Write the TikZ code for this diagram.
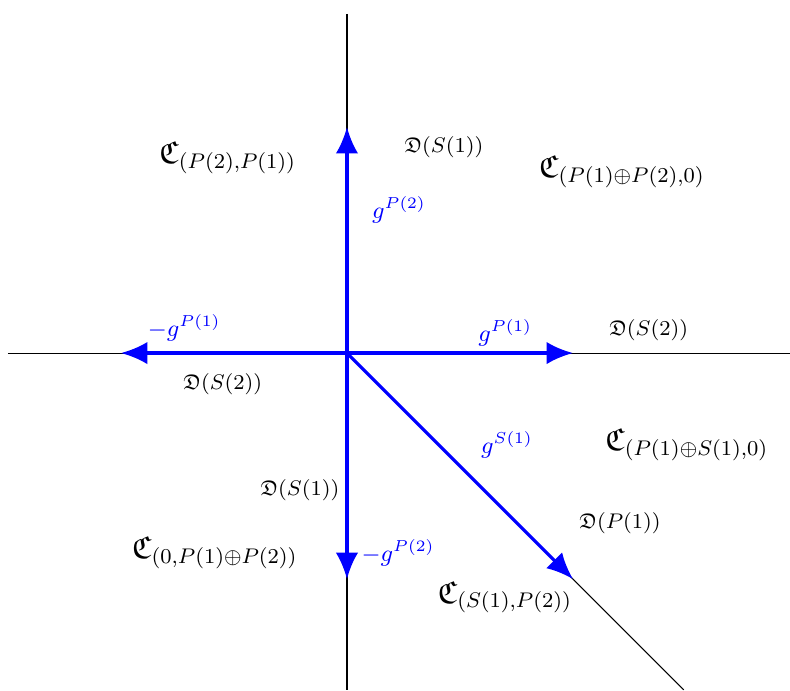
\documentclass[tikz,border=0pt]{standalone}
\usepackage{amssymb}
\usetikzlibrary{arrows.meta}
\tikzset{
  achse/.style  = {draw=black, line width=0.4pt},
  vektor/.style = {-{Latex[length=10pt, width=8.5pt]}, draw=blue, line width=1.2pt},
  kammer/.style = {font=\large},
  wand/.style   = {font=\footnotesize},
  gtxt/.style   = {text=blue, font=\small},
}

\begin{document}
\begin{tikzpicture}[x=3cm, y=3cm]
  \useasboundingbox (-1.535,-1.491) rectangle (1.96,1.562);
  % --- achsen ---
  \coordinate (o) at (0,0);
  \coordinate (links) at (-1.5,0);
  \coordinate (rechts) at (1.96,0);
  \coordinate (oben) at (0,1.5);
  \coordinate (unten) at (0,-1.49);
  \coordinate (diag) at (1.49,-1.49);
  \draw[achse] (links) -- (rechts);
  \draw[achse] (oben) -- (unten);
  \draw[achse] (o) -- (diag);

  % --- vektoren ---
  \coordinate (gp2) at (0,1);
  \coordinate (gp1) at (1,0);
  \coordinate (mgp1) at (-1,0);
  \coordinate (mgp2) at (0,-1);
  \coordinate (gs1) at (1,-1);
  \draw[vektor] (o) -- (gp2);
  \draw[vektor] (o) -- (gp1);
  \draw[vektor] (o) -- (mgp1);
  \draw[vektor] (o) -- (mgp2);
  \draw[vektor] (o) -- (gs1);

  \node[gtxt] at (0.23, 0.633) (lgp2) {$g^{P(2)}$};
  \node[gtxt] at (-0.72, 0.111) (lmgp1) {$-g^{P(1)}$};
  \node[gtxt] at (0.70, 0.088) (lgp1) {$g^{P(1)}$};
  \node[gtxt] at (0.708, -0.407) (lgs1) {$g^{S(1)}$};
  \node[gtxt] at (0.226, -0.885) (lmgp2) {$-g^{P(2)}$};

  % --- waende ---
  \node[wand] at (0.429, 0.912) (ds1o) {$\mathfrak{D}(S(1))$};
  \node[wand] at (1.335, 0.102) (ds2r) {$\mathfrak{D}(S(2))$};
  \node[wand] at (-0.549, -0.137) (ds2l) {$\mathfrak{D}(S(2))$};
  \node[wand] at (-0.208, -0.606) (ds1u) {$\mathfrak{D}(S(1))$};
  \node[wand] at (1.208, -0.752) (dp1) {$\mathfrak{D}(P(1))$};

  % --- kammern ---
  \node[kammer] at (-0.527, 0.863) (c1) {$\mathfrak{C}_{(P(2),P(1))}$};
  \node[kammer] at (1.217, 0.801) (c2) {$\mathfrak{C}_{(P(1)\oplus P(2),0)}$};
  \node[kammer] at (1.504, -0.407) (c3) {$\mathfrak{C}_{(P(1)\oplus S(1),0)}$};
  \node[kammer] at (-0.584, -0.885) (c4) {$\mathfrak{C}_{(0,P(1)\oplus P(2))}$};
  \node[kammer] at (0.699, -1.08) (c5) {$\mathfrak{C}_{(S(1),P(2))}$};
\end{tikzpicture}
\end{document}
